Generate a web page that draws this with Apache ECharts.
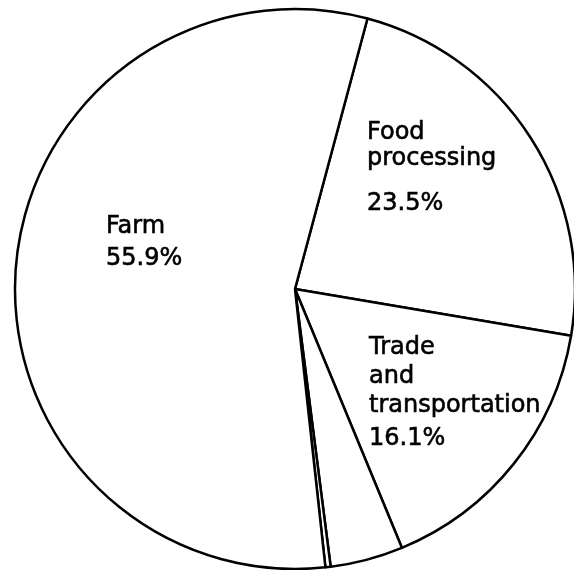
<!DOCTYPE html>
<html>
<head>
<meta charset="utf-8">
<script src="https://cdn.jsdelivr.net/npm/echarts@6/dist/echarts.min.js"></script>
<style>
html,body{margin:0;padding:0;background:#fff;}
#chart{width:574px;height:570px;}
</style>
</head>
<body>
<div id="chart"></div>
<script>
// Data (clockwise from the Farm/Food boundary near 12 o'clock)
const categories = ['Food processing', 'Trade and transportation', 'Other', 'Other (small)', 'Farm'];
const shares = [23.5, 16.1, 4.2, 0.3, 55.9];
const labelLines = [
  ['Food', 'processing'],
  ['Trade', 'and', 'transportation'],
  null,
  null,
  ['Farm']
];
const percentLabels = ['23.5%', '16.1%', null, null, '55.9%'];

// Label placement (style only)
const labelPos = [
  {x: 367, y: 120, lh: 26, plh: 64},
  {x: 369, y: 333, lh: 29, plh: 37},
  null,
  null,
  {x: 106, y: 211, lh: 32, plh: 32}
];

const textStyle = (lh) => ({
  fontFamily: 'DejaVu Sans', fontSize: 24, color: '#000', lineHeight: lh,
  textBorderColor: '#000', textBorderWidth: 0.6
});

const data = categories.map((name, i) => {
  const item = {name: name, value: shares[i]};
  if (labelLines[i]) {
    const txt = labelLines[i].map(t => '{n|' + t + '}').join('\n') + '\n{p|' + percentLabels[i] + '}';
    item.label = {
      show: true,
      formatter: txt,
      rich: {n: textStyle(labelPos[i].lh), p: textStyle(labelPos[i].plh)}
    };
  } else {
    item.label = {show: false};
  }
  return item;
});

const chart = echarts.init(document.getElementById('chart'), null, {renderer: 'canvas'});
chart.setOption({
  animation: false,
  backgroundColor: '#fff',
  series: [{
    type: 'pie',
    center: [295, 289],
    radius: [0, 280],
    startAngle: 75,
    clockwise: true,
    avoidLabelOverlap: false,
    silent: true,
    itemStyle: {color: '#fff', borderColor: '#000', borderWidth: 2.5},
    label: {position: 'inside', align: 'left'},
    labelLine: {show: false},
    labelLayout: function (params) {
      const p = labelPos[params.dataIndex];
      if (!p) return {};
      return {x: p.x, y: p.y, align: 'left', verticalAlign: 'top'};
    },
    data: data
  }]
});
</script>
</body>
</html>
